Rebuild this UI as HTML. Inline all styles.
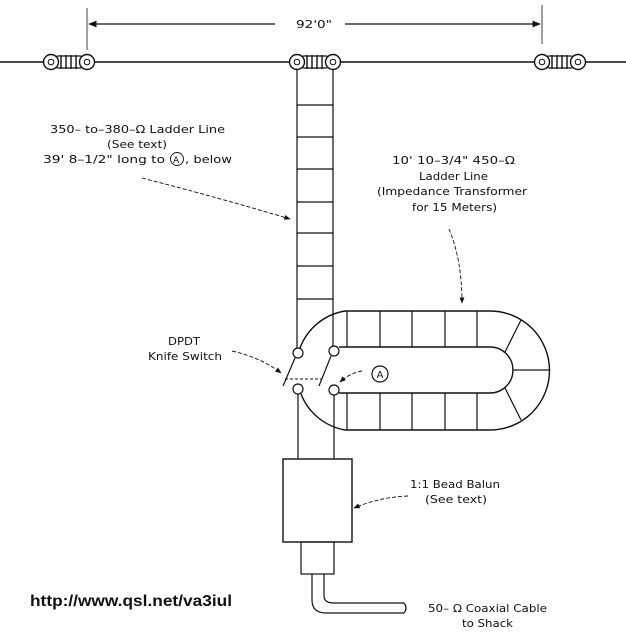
<!DOCTYPE html>
<html><head><meta charset="utf-8"><style>
html,body{margin:0;padding:0;background:#fff;}
svg{display:block}
text{font-family:"DejaVu Sans","Liberation Sans",sans-serif;font-size:11px;fill:#111;}
</style></head><body>
<svg width="626" height="636" viewBox="0 0 626 636" xmlns="http://www.w3.org/2000/svg">
<defs>
<marker id="ah" viewBox="0 0 10 10" refX="9" refY="5" markerWidth="7" markerHeight="7" orient="auto"><path d="M0,1 L10,5 L0,9 Z" fill="#111"/></marker>
<g id="ins">
<rect x="-14" y="-6" width="28" height="12" rx="3" fill="#fff" stroke="#111" stroke-width="1.2"/>
<path d="M-8,-7 L-8,7 M-3,-7 L-3,7 M2,-7 L2,7 M7,-7 L7,7" stroke="#111" stroke-width="1.4"/>
<circle cx="-18" cy="0" r="7.5" fill="#fff" stroke="#111" stroke-width="1.4"/>
<circle cx="-18" cy="0" r="2.8" fill="none" stroke="#111"/>
<circle cx="18" cy="0" r="7.5" fill="#fff" stroke="#111" stroke-width="1.4"/>
<circle cx="18" cy="0" r="2.8" fill="none" stroke="#111"/>
</g>
</defs>
<g stroke="#111" fill="none" stroke-width="1.2">
<!-- dimension -->
<line x1="87" y1="8" x2="87" y2="50" stroke-width="0.8"/>
<line x1="542" y1="5" x2="542" y2="44" stroke-width="0.8"/>
<line x1="275" y1="24" x2="89" y2="24" marker-end="url(#ah)"/>
<line x1="345" y1="24" x2="540" y2="24" marker-end="url(#ah)"/>
<!-- wire -->
<line x1="0" y1="62" x2="626" y2="62" stroke-width="1.4"/>
<!-- ladder rails -->
<line x1="297" y1="68" x2="297" y2="348"/>
<line x1="333" y1="68" x2="333" y2="347"/>
<path d="M297,105H333M297,137H333M297,169H333M297,202H333M297,233H333M297,266H333M297,299H333"/>
<!-- loop outer -->
<path d="M300,348 A58,58 0 0 1 345,311 L490,311 A59.5,59.5 0 0 1 490,430 L345,430 A58,58 0 0 1 301,394" stroke-width="1.4"/>
<!-- loop inner -->
<path d="M339,347 L490,347 A23,23 0 0 1 490,393 L339,393" stroke-width="1.4"/>
<path d="M347,311V347M380,311V347M412,311V347M445,311V347M477,311V347"/>
<path d="M347,393V430M380,393V430M412,393V430M445,393V430M477,393V430"/>
<path d="M505,352 L521,320 M513,370 L550,370 M505,388 L521,420"/>
<!-- switch -->
<circle cx="298" cy="353" r="5" fill="#fff"/>
<circle cx="334" cy="351" r="5" fill="#fff"/>
<circle cx="298" cy="389" r="5" fill="#fff"/>
<circle cx="334" cy="390" r="5" fill="#fff"/>
<line x1="283" y1="386" x2="295" y2="358"/>
<line x1="319" y1="386" x2="331" y2="356"/>
<line x1="285" y1="379" x2="321" y2="379" stroke-dasharray="3,2" stroke-width="0.9"/>
<!-- lower rails -->
<line x1="298" y1="394" x2="298" y2="459"/>
<line x1="334" y1="395" x2="334" y2="459"/>
<rect x="283" y="459" width="69" height="83" stroke-width="1.4"/>
<rect x="301" y="542" width="33" height="32"/>
<path d="M312,574 L312,600 Q312,613 326,613 L404,613"/>
<path d="M324,574 L324,596 Q324,603 334,603 L404,603"/>
<path d="M404,603 Q408,608 404,613"/>
<!-- arrows -->
<path d="M142,178 Q220,198 290,219" stroke-dasharray="4,2" stroke-width="0.9" marker-end="url(#ah)"/>
<path d="M232,351 Q262,358 281,373" stroke-dasharray="4,2" stroke-width="0.9" marker-end="url(#ah)"/>
<path d="M449,229 Q462,260 462,303" stroke-dasharray="4,2" stroke-width="0.9" marker-end="url(#ah)"/>
<path d="M362,371 Q350,373 340,382" stroke-dasharray="4,2" stroke-width="0.9" marker-end="url(#ah)"/>
<path d="M408,496 Q380,497 354,508" stroke-dasharray="4,2" stroke-width="0.9" marker-end="url(#ah)"/>
<circle cx="380" cy="374" r="8"/>
<circle cx="177" cy="159" r="6.5" stroke-width="0.9"/>
</g>
<use href="#ins" x="69" y="62"/>
<use href="#ins" x="315" y="62"/>
<use href="#ins" x="560" y="62"/>
<text x="296" y="28" textLength="36" lengthAdjust="spacingAndGlyphs">92'0"</text>
<text x="50" y="133" textLength="175" lengthAdjust="spacingAndGlyphs">350– to–380–Ω Ladder Line</text>
<text x="107" y="148" textLength="60" lengthAdjust="spacingAndGlyphs">(See text)</text>
<text x="43" y="163" textLength="122" lengthAdjust="spacingAndGlyphs">39' 8–1/2" long to</text>
<text x="173" y="163" style="font-size:9px">A</text>
<text x="185" y="163" textLength="47" lengthAdjust="spacingAndGlyphs">, below</text>
<text x="392" y="164" textLength="123" lengthAdjust="spacingAndGlyphs">10' 10–3/4" 450–Ω</text>
<text x="419" y="180" textLength="69" lengthAdjust="spacingAndGlyphs">Ladder Line</text>
<text x="377" y="195" textLength="150" lengthAdjust="spacingAndGlyphs">(Impedance Transformer</text>
<text x="412" y="211" textLength="85" lengthAdjust="spacingAndGlyphs">for 15 Meters)</text>
<text x="168" y="345" textLength="32" lengthAdjust="spacingAndGlyphs">DPDT</text>
<text x="148" y="360" textLength="74" lengthAdjust="spacingAndGlyphs">Knife Switch</text>
<text x="380" y="378" text-anchor="middle" style="font-size:10px">A</text>
<text x="410" y="488" textLength="90" lengthAdjust="spacingAndGlyphs">1:1 Bead Balun</text>
<text x="425" y="503" textLength="62" lengthAdjust="spacingAndGlyphs">(See text)</text>
<text x="428" y="612" textLength="119" lengthAdjust="spacingAndGlyphs">50– Ω Coaxial Cable</text>
<text x="462" y="627" textLength="51" lengthAdjust="spacingAndGlyphs">to Shack</text>
<text x="30" y="606" textLength="202" lengthAdjust="spacingAndGlyphs" style="font-family:'Liberation Sans',sans-serif;font-size:16px;font-weight:bold">http://www.qsl.net/va3iul</text>
</svg>
</body></html>
